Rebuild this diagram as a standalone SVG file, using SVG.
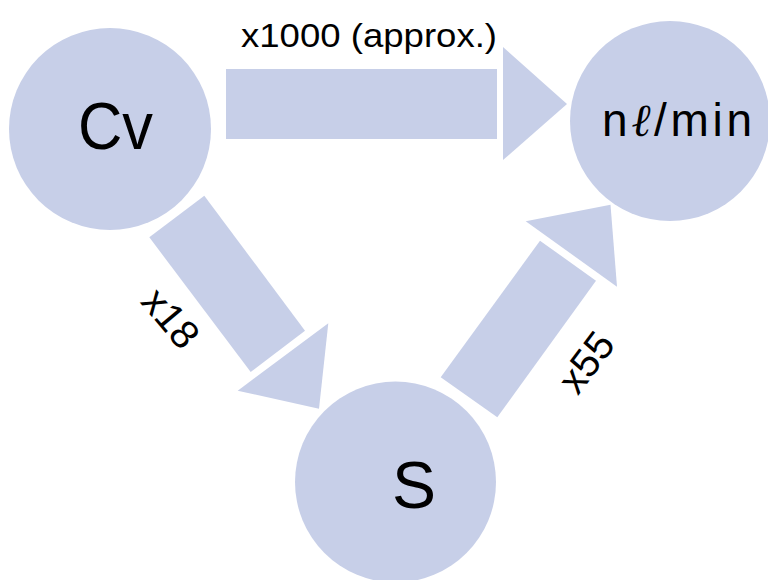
<svg xmlns="http://www.w3.org/2000/svg" width="768" height="580" viewBox="0 0 768 580">
<style>
.node{fill:#c7cfe8}
.arr{fill:#c7cfe8}
text{font-family:"Liberation Sans",Arial,sans-serif;fill:#000}
</style>
<rect width="768" height="580" fill="#fff"/>
<g id="connectors">
<g id="cv-to-nmin">
<rect class="arr" x="226" y="69" width="271" height="70"/>
<polygon class="arr" points="503,47 567,104 503,160"/>
<text x="241" y="47" font-size="33" textLength="256" lengthAdjust="spacingAndGlyphs">x1000 (approx.)</text>
</g>
<g id="cv-to-s">
<polygon class="arr" points="204.3,195.7 305,330.7 250.7,372 149.3,237.3"/>
<polygon class="arr" points="237.7,390.7 328.3,323.3 319,408.7"/>
<text transform="translate(171,318) rotate(50)" y="14" font-size="40" text-anchor="middle">x18</text>
</g>
<g id="s-to-nmin">
<polygon class="arr" points="540,240.7 596,280.7 497.3,417.3 440.7,377.3"/>
<polygon class="arr" points="525.7,221.3 610.5,204.7 617,286.7"/>
<text transform="translate(586,362) rotate(-53)" y="14" font-size="40" text-anchor="middle">x55</text>
</g>
</g>
<g id="node-cv">
<circle class="node" cx="110" cy="129" r="101"/>
<text x="78" y="149" font-size="66" textLength="75" lengthAdjust="spacingAndGlyphs">Cv</text>
</g>
<g id="node-nmin">
<circle class="node" cx="670" cy="121" r="100"/>
<text x="602" y="136" font-size="46" textLength="150">n<tspan font-family="Liberation Serif" font-style="italic">ℓ</tspan>/min</text>
</g>
<g id="node-s">
<circle class="node" cx="395.5" cy="482" r="100.5"/>
<text x="414" y="508" font-size="66" text-anchor="middle">S</text>
</g>
</svg>
